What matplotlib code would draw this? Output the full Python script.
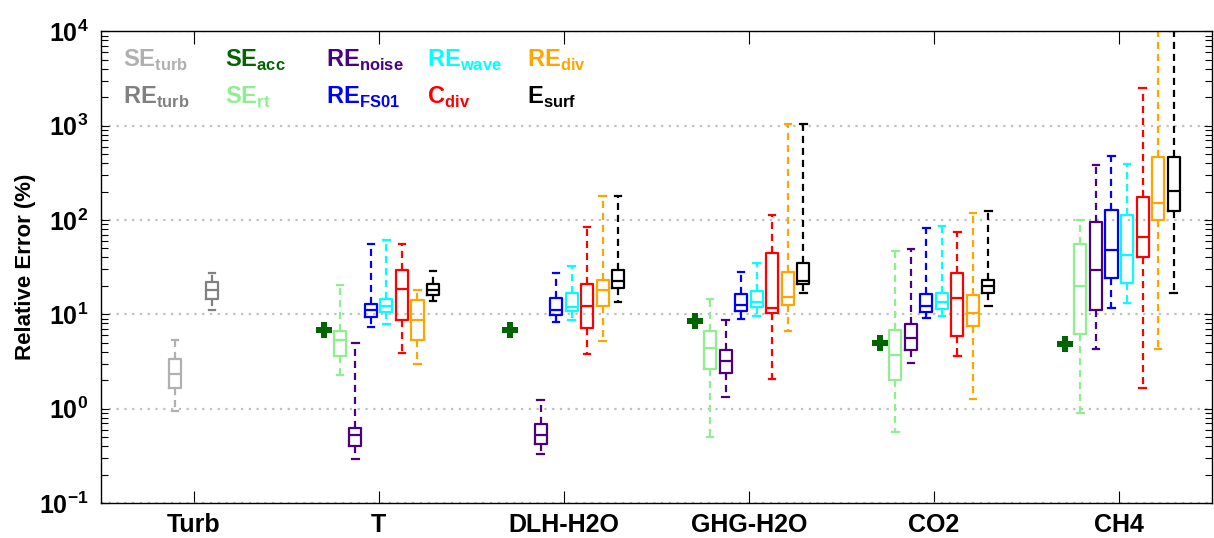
import numpy as np
import matplotlib
matplotlib.use('Agg')
import matplotlib.pyplot as plt
from matplotlib.ticker import LogLocator, NullFormatter

plt.rcParams['font.family'] = ['Liberation Sans', 'DejaVu Sans']
plt.rcParams['mathtext.fontset'] = 'custom'
plt.rcParams['mathtext.rm'] = 'Liberation Sans'
plt.rcParams['mathtext.bf'] = 'Liberation Sans:bold'

groups = ['Turb', 'T', 'DLH-H2O', 'GHG-H2O', 'CO2', 'CH4']

# box stats per group: [whislo, q1, median, q3, whishi], None = not shown
se_turb = [[0.94, 1.67, 2.35, 3.35, 5.4], None, None, None, None, None]
re_turb = [[11.2, 14.7, 18.2, 21.9, 27.3], None, None, None, None, None]
se_acc = [None, 6.9, 6.9, 8.5, 4.95, 4.9]
se_rt = [None,
         [2.25, 3.6, 5.4, 6.6, 20.6],
         None,
         [0.5, 2.65, 4.4, 6.6, 14.5],
         [0.56, 2.0, 3.67, 6.9, 46.4],
         [0.91, 6.2, 19.9, 56, 101]]
re_noise = [None,
            [0.29, 0.40, 0.52, 0.62, 4.95],
            [0.33, 0.42, 0.52, 0.68, 1.25],
            [1.33, 2.38, 3.2, 4.15, 8.8],
            [3.07, 4.2, 5.65, 7.8, 49.5],
            [4.25, 11.2, 29.7, 96, 384]]
re_fs01 = [None,
           [7.4, 9.3, 11.2, 12.9, 56],
           [8.3, 9.9, 11.2, 15, 27.3],
           [9.0, 10.8, 12.4, 16.5, 28],
           [9.2, 10.5, 12.2, 16.5, 82],
           [11.6, 24.2, 48.3, 126, 474]]
re_wave = [None,
           [7.9, 10.5, 12.2, 14.5, 61.7],
           [8.8, 10.8, 11.9, 16.9, 32.2],
           [9.7, 11.9, 13.5, 17.6, 34.8],
           [9.7, 11.5, 13.5, 16.8, 86],
           [13.2, 21.6, 42, 112, 394]]
c_div = [None,
         [3.9, 8.6, 18.7, 29.2, 56],
         [3.83, 7.1, 12.3, 21.1, 84],
         [2.08, 10.3, 11.7, 45, 112],
         [3.6, 5.9, 15.0, 27.3, 74],
         [1.65, 40.4, 65.8, 175, 2510]]
re_div = [None,
          [3.0, 5.3, 8.8, 14.3, 18.2],
          [5.2, 12.2, 18.2, 23.2, 180],
          [6.6, 12.7, 15.2, 28, 1045],
          [1.28, 7.6, 10.3, 16.1, 119],
          [4.25, 99, 151, 463, 10000]]
e_surf = [None,
          [13.7, 16.2, 18.2, 21.1, 28.8],
          [13.6, 19.1, 22.3, 29.2, 179],
          [16.9, 21.1, 22.3, 35.2, 1045],
          [12.3, 16.8, 19.9, 22.9, 124],
          [17.0, 123, 202, 463, 10000]]

# (data, color, offset within group)
step = 0.0838
box_series = [
    (se_turb, '#b0b0b0', -0.1),
    (re_turb, '#808080', 0.1),
    (se_rt, '#90ee90', -2.5 * step),
    (re_noise, '#4b0082', -1.5 * step),
    (re_fs01, '#0000ff', -0.5 * step),
    (re_wave, '#00ffff', 0.5 * step),
    (c_div, '#ff0000', 1.5 * step),
    (re_div, '#ffa500', 2.5 * step),
    (e_surf, '#000000', 3.5 * step),
]

legend_items = [
    ('SE', 'turb', '#b0b0b0'), ('RE', 'turb', '#808080'),
    ('SE', 'acc', '#006400'), ('SE', 'rt', '#90ee90'),
    ('RE', 'noise', '#4b0082'), ('RE', 'FS01', '#0000ff'),
    ('RE', 'wave', '#00ffff'), ('C', 'div', '#ff0000'),
    ('RE', 'div', '#ffa500'), ('E', 'surf', '#000000'),
]

fig = plt.figure(figsize=(12.14, 5.38), dpi=100)
ax = fig.add_axes([0.0832, 0.065, 0.915, 0.877])
ax.set_yscale('log')

for data, color, off in box_series:
    stats, pos = [], []
    for i, s in enumerate(data):
        if s is None:
            continue
        stats.append(dict(whislo=s[0], q1=s[1], med=s[2], q3=s[3], whishi=s[4], fliers=[]))
        pos.append(i + 1 + off)
    ax.bxp(stats, positions=pos, widths=0.065, capwidths=0.035, showfliers=False,
           boxprops=dict(color=color, linewidth=1.6),
           medianprops=dict(color=color, linewidth=1.6),
           whiskerprops=dict(color=color, linewidth=1.6, linestyle=(0, (3.2, 2.2))),
           capprops=dict(color=color, linewidth=1.6),
           manage_ticks=False)

acc_x = [i + 1 - 3.5 * step for i, v in enumerate(se_acc) if v is not None]
acc_y = [v for v in se_acc if v is not None]
ax.plot(acc_x, acc_y, linestyle='none', marker='P', markersize=11,
        color='#006400', markeredgewidth=0)

ax.set_xlim(0.5, 6.5)
ax.set_ylim(0.1, 1e4)
ax.set_xticks(range(1, 7))
ax.set_xticklabels(groups, fontsize=18, fontweight='bold')
ax.tick_params(axis='x', direction='in', top=True, length=9, width=0.8, pad=7)

ax.yaxis.set_minor_locator(LogLocator(base=10, subs=np.arange(2, 10), numticks=20))
ax.yaxis.set_minor_formatter(NullFormatter())
ax.set_yticks([10.0 ** k for k in range(-1, 5)])
ax.set_yticklabels([r'$\mathbf{10^{%d}}$' % k for k in range(-1, 5)], fontsize=18)
ax.tick_params(axis='y', which='both', direction='in', right=True, width=0.8)
ax.tick_params(axis='y', which='major', length=6, pad=9)
ax.tick_params(axis='y', which='minor', length=5)
ax.set_ylabel('Relative Error (%)', fontsize=16, fontweight='bold', labelpad=2)

ax.grid(True, axis='y', which='major', linestyle=(0, (1, 2.5)), color='#c0c0c0', linewidth=1.6)
for sp in ax.spines.values():
    sp.set_linewidth(1.0)

col_x = [0.0198, 0.1116, 0.2025, 0.2934, 0.3834]
row_y = [0.924, 0.846]
for n, (main, sub, color) in enumerate(legend_items):
    col, row = n // 2, n % 2
    ax.text(col_x[col], row_y[row], r'$\mathbf{%s}_{\mathbf{%s}}$' % (main, sub),
            transform=ax.transAxes, fontsize=17, color=color, ha='left', va='baseline')

fig.savefig('out.png', dpi=100)
